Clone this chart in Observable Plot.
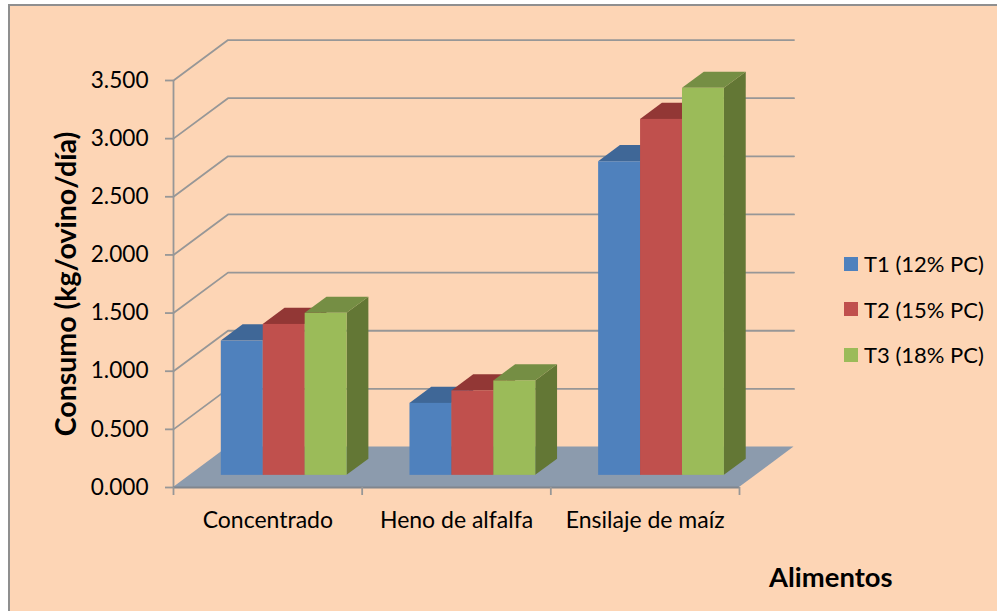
<!DOCTYPE html>
<html lang="es">
<head>
<meta charset="utf-8">
<title>Consumo por alimento</title>
<script src="https://cdn.jsdelivr.net/npm/d3@7"></script>
<script src="https://cdn.jsdelivr.net/npm/@observablehq/plot@0.6"></script>
<style>
  html, body { margin: 0; background: #fff; }
  #page { position: relative; width: 997px; height: 611px; overflow: hidden; }
  #panel { position: absolute; left: 8px; top: 4px; right: 0; bottom: 0; background: #fdd5b5;
           border-left: 2px solid #8f8f8f; border-top: 2px solid #8f8f8f; }
  #page > svg { position: absolute; left: 0; top: 0; background: transparent; }
  #legend { position: absolute; left: 844px; top: 252px; width: 152px; font: 22px Lato, sans-serif; color: #000; }
  #legend > * { margin: 0; }
  #legend [class$="-swatch"] { padding-bottom: 22.5px; line-height: 23px; white-space: nowrap; overflow: visible; }
  #legend [class$="-swatch"] * { overflow: visible; max-width: none; }
  #legend svg { margin-right: 6px; }
</style>
</head>
<body>
<div id="page"><div id="panel"></div></div>
<script>
const categories = ["Concentrado", "Heno de alfalfa", "Ensilaje de maíz"];
const series = ["T1 (12% PC)", "T2 (15% PC)", "T3 (18% PC)"];
const t1 = [1.155, 0.619, 2.697];
const t2 = [1.298, 0.726, 3.061];
const t3 = [1.393, 0.812, 3.328];
const yTicks = [0, 0.5, 1, 1.5, 2, 2.5, 3, 3.5];

const frontColors = ["#4f81bd", "#c0504d", "#9bbb59"];
const topColors = ["#3f6797", "#923735", "#758e44"];
const sideColors = ["#34557d", "#7a2e2c", "#637735"];
const gridColor = "#979797";
const floorColor = "#8c9bad";
const fontFamily = "Lato, sans-serif";

// Oblique projection: a point at depth d (0 front, 1 back) shifts right and up, in data units.
const shearX = 0.289;
const shearY = 0.348;
const px = (x, d) => x + d * shearX;
const py = (v, d) => v + d * shearY;

// Bars occupy the middle of the floor's depth and of each category's width.
const depthFront = 0.3;
const depthBack = 0.7;
const barWidth = 1 / 4.5;
const barGap = 0.75 * barWidth;

const bars = [t1, t2, t3].flatMap((values, s) =>
  values.map((value, c) => {
    const left = c + barGap + s * barWidth;
    return { series: series[s], s, c, value, left, right: left + barWidth };
  })
);

// Every depth line on the side wall plus the run along the back wall.
const gridRows = yTicks.slice(1).flatMap((v) => [
  { v, x: px(0, 0), y: py(v, 0) },
  { v, x: px(0, 1), y: py(v, 1) },
  { v, x: px(3, 1), y: py(v, 1) }
]);

const floorRows = [0, 1].map((d) => ({ y: py(0, d), x1: px(0, d), x2: px(3, d) }));

const topRows = (s) =>
  bars.filter((b) => b.s === s).flatMap((b) =>
    [depthFront, depthBack].map((d) => ({
      c: b.c, y: py(b.value, d), x1: px(b.left, d), x2: px(b.right, d)
    }))
  );

const sideRows = (s) =>
  bars.filter((b) => b.s === s).flatMap((b) =>
    [depthFront, depthBack].map((d) => ({
      c: b.c, x: px(b.right, d), y1: py(0, d), y2: py(b.value, d)
    }))
  );

const chart = Plot.plot({
  width: 997,
  height: 611,
  marginLeft: 173,
  marginRight: 258,
  marginTop: 80,
  marginBottom: 124,
  style: { fontFamily, fontSize: "22px", color: "#000", overflow: "visible" },
  x: { domain: [0, 3], axis: null },
  y: { domain: [0, 3.5], axis: null },
  color: { domain: series, range: frontColors },
  marks: [
    Plot.areaX(floorRows, { y: "y", x1: "x1", x2: "x2", fill: floorColor }),
    Plot.line(gridRows, { x: "x", y: "y", z: "v", stroke: gridColor, strokeWidth: 1.8 }),
    Plot.ruleX([0], { y1: 0, y2: 3.5, stroke: gridColor, strokeWidth: 1.8 }),
    Plot.ruleY([0], { x1: 0, x2: 3, stroke: "#80868e", strokeWidth: 1.8 }),
    Plot.axisY({
      ticks: yTicks, tickFormat: d3.format(".3f"), tickSize: 8, tickPadding: 17,
      stroke: gridColor, strokeWidth: 1.8, label: null, fontSize: 22.6, fill: "#000"
    }),
    Plot.axisX({ ticks: [0, 1, 2, 3], tickFormat: () => "", tickSize: 8, stroke: gridColor, strokeWidth: 1.8, label: null }),
    Plot.axisX({
      ticks: [0.5, 1.5, 2.5], tickFormat: (t) => categories[t - 0.5], tickSize: 0, tickPadding: 24,
      label: null, fontSize: 23, fill: "#000"
    }),
    // Painted left to right so each bar's front hides the side of its neighbour.
    ...[0, 1, 2].flatMap((s) => [
      Plot.areaY(sideRows(s), { x: "x", y1: "y1", y2: "y2", z: "c", fill: sideColors[s] }),
      Plot.areaX(topRows(s), { y: "y", x1: "x1", x2: "x2", z: "c", fill: topColors[s] }),
      Plot.rect(bars.filter((b) => b.s === s), {
        x1: (b) => px(b.left, depthFront),
        x2: (b) => px(b.right, depthFront),
        y1: py(0, depthFront),
        y2: (b) => py(b.value, depthFront),
        fill: "series"
      })
    ]),
    Plot.text(["Consumo (kg/ovino/día)"], {
      frameAnchor: "left", dx: -107, rotate: -90, textAnchor: "middle", lineAnchor: "middle",
      fontWeight: "bold", fontSize: 28.5, fill: "#000"
    }),
    Plot.text(["Alimentos"], {
      frameAnchor: "bottom-right", dx: 153, dy: 91, textAnchor: "end", lineAnchor: "middle",
      fontWeight: "bold", fontSize: 27.4, fill: "#000"
    })
  ]
});

const page = document.getElementById("page");
page.appendChild(chart);

const legend = chart.legend("color", { columns: 1, swatchSize: 14 });
legend.id = "legend";
page.appendChild(legend);
</script>
</body>
</html>
